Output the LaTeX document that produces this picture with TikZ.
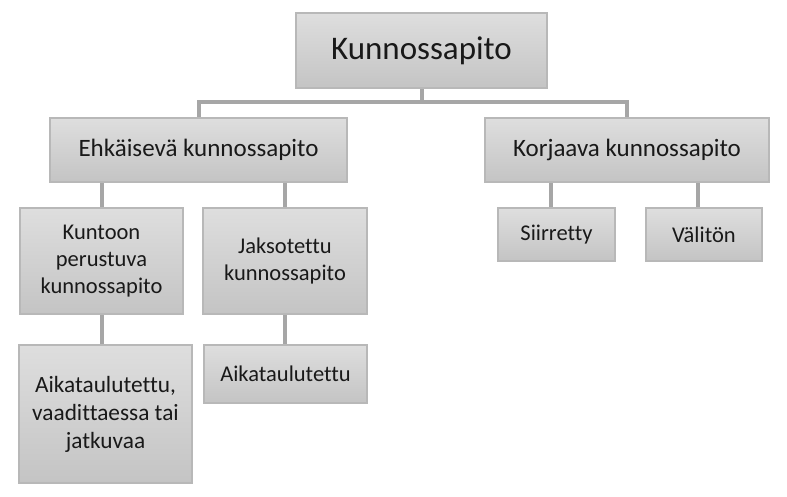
\documentclass[tikz,border=0pt]{standalone}
\usepackage{fontspec}
\setmainfont{Carlito}[Ligatures={NoCommon,NoContextual}]
\usetikzlibrary{backgrounds,calc}
\definecolor{boxtop}{HTML}{DEDEDE}
\definecolor{boxbot}{HTML}{C4C4C4}
\definecolor{boxline}{HTML}{B8B8B8}
\definecolor{conn}{HTML}{A6A6A6}
\tikzset{
  box/.style={draw=boxline, line width=1.2pt, top color=boxtop, bottom color=boxbot,
    inner sep=0pt, align=center, text=black!90},
  link/.style={draw=conn, line width=4pt},
  fbig/.style={font=\fontsize{33}{40}\selectfont},
  fmid/.style={font=\fontsize{25}{30}\selectfont},
  fsmall/.style={font=\fontsize{22.5}{27}\selectfont},
  fleaf/.style={font=\fontsize{23.3}{28}\selectfont},
}
\begin{document}
\begin{tikzpicture}[x=1pt,y=-1pt]
\useasboundingbox (0,0) rectangle (787,497);
\node[box,fbig,minimum width=251pt,minimum height=75pt] (root) at (421.5,50.5) {Kunnossapito};
\node[box,fmid,minimum width=297pt,minimum height=64pt] (ehk) at (198.5,150) {Ehkäisevä kunnossapito};
\node[box,fmid,minimum width=284pt,minimum height=64pt] (korj) at (627,150) {Korjaava kunnossapito};
\node[box,fsmall,minimum width=163pt,minimum height=106pt] (kunt) at (101.5,261) {Kuntoon\\perustuva\\kunnossapito};
\node[box,fsmall,minimum width=164pt,minimum height=106pt] (jaks) at (285,261) {Jaksotettu\\kunnossapito};
\node[box,fleaf,minimum width=173pt,minimum height=138pt] (aik1) at (105.5,414) {Aikataulutettu,\\vaadittaessa tai\\jatkuvaa};
\node[box,fsmall,minimum width=163pt,minimum height=58pt] (aik2) at (285.5,374) {Aikataulutettu};
\node[box,fsmall,minimum width=117pt,minimum height=53pt] (sii) at (556.5,234.5) {Siirretty};
\node[box,fsmall,minimum width=116pt,minimum height=53pt] (val) at (704,234.5) {Välitön};
\coordinate (bus) at (0,102);
\begin{scope}[on background layer]
\fill[white] (0,0) rectangle (787,497);
\draw[link] (root.south) -- (root.south |- bus) -| (ehk.north);
\draw[link] (root.south |- bus) -| (korj.north);
\draw[link] (kunt.north |- ehk.south) -- (kunt.north);
\draw[link] (jaks.north |- ehk.south) -- (jaks.north);
\draw[link] (kunt.south) -- (kunt.south |- aik1.north);
\draw[link] (jaks.south) -- (jaks.south |- aik2.north);
\coordinate (siitop) at ($(sii.north)+(-6,0)$);
\coordinate (valtop) at ($(val.north)+(-6,0)$);
\draw[link] (siitop |- korj.south) -- (siitop);
\draw[link] (valtop |- korj.south) -- (valtop);
\end{scope}
\end{tikzpicture}
\end{document}
